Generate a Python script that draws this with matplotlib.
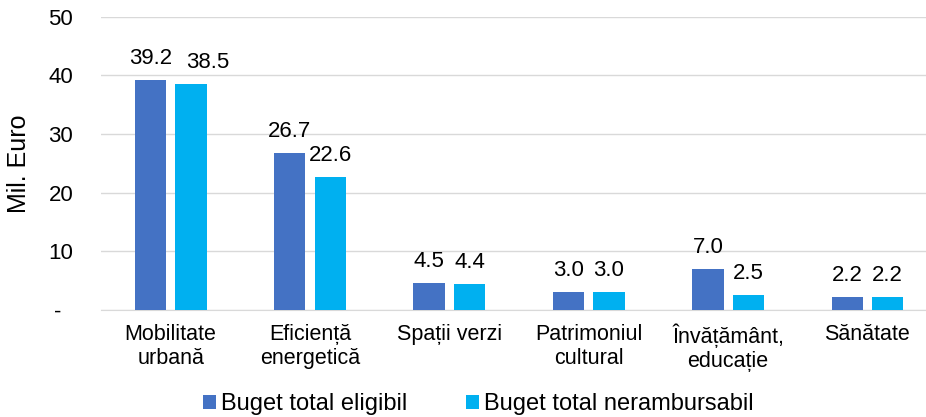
import matplotlib.pyplot as plt
import numpy as np

categories = ["Mobilitate\nurbană", "Eficiență\nenergetică", "Spații verzi",
              "Patrimoniul\ncultural", "Învățământ,\neducație", "Sănătate"]
eligibil = [39.2, 26.7, 4.5, 3.0, 7.0, 2.2]
nerambursabil = [38.5, 22.6, 4.4, 3.0, 2.5, 2.2]
series_names = ["Buget total eligibil", "Buget total nerambursabil"]
colors = ["#4472C4", "#00B0F0"]
ytick_labels = ["-  ", "10", "20", "30", "40", "50"]

# Excel pushed one label sideways to avoid an overlap (in points)
label_nudge = [[0] * 6, [12, 0, 0, 0, 0, 0]]

plt.rcParams['font.family'] = ['Liberation Sans', 'DejaVu Sans']
plt.rcParams['font.size'] = 16

fig = plt.figure(figsize=(9.26, 4.17), dpi=100)
ax = fig.add_axes([0.109, 0.257, 0.903, 0.703])

x = np.arange(len(categories))
w = 0.225
off = 0.145
for i, (vals, dx) in enumerate([(eligibil, -off), (nerambursabil, off)]):
    bars = ax.bar(x + dx, vals, w, color=colors[i], label=series_names[i], zorder=3)
    for b, v, nx in zip(bars, vals, label_nudge[i]):
        ax.annotate(f"{v:.1f}", xy=(b.get_x() + b.get_width() / 2, v),
                    xytext=(nx, 8), textcoords="offset points",
                    ha="center", va="bottom", fontsize=16)

ax.set_xlim(-0.5, len(categories) - 0.5)
ax.set_ylim(0, 50)
ax.set_yticks([0, 10, 20, 30, 40, 50])
ax.set_yticklabels(ytick_labels)
ax.set_xticks(x)
ax.set_xticklabels(categories, fontsize=15.5)
ax.yaxis.grid(True, color="#D9D9D9", linewidth=1, zorder=0)
ax.tick_params(length=0)
ax.tick_params(axis="y", pad=20)
ax.tick_params(axis="x", pad=10)
for s in ["left", "top", "right"]:
    ax.spines[s].set_visible(False)
ax.spines["bottom"].set_color("#D9D9D9")
ax.set_ylabel("Mil. Euro", fontsize=18)
ax.yaxis.set_label_coords(-0.0837, 0.5)

fig.legend(*ax.get_legend_handles_labels(), loc="center",
           bbox_to_anchor=(478 / 926, 13 / 417), ncol=2, frameon=False,
           handlelength=0.55, handleheight=0.55, handletextpad=0.2, columnspacing=2.5,
           fontsize=17)

plt.savefig("out.png", dpi=100)
